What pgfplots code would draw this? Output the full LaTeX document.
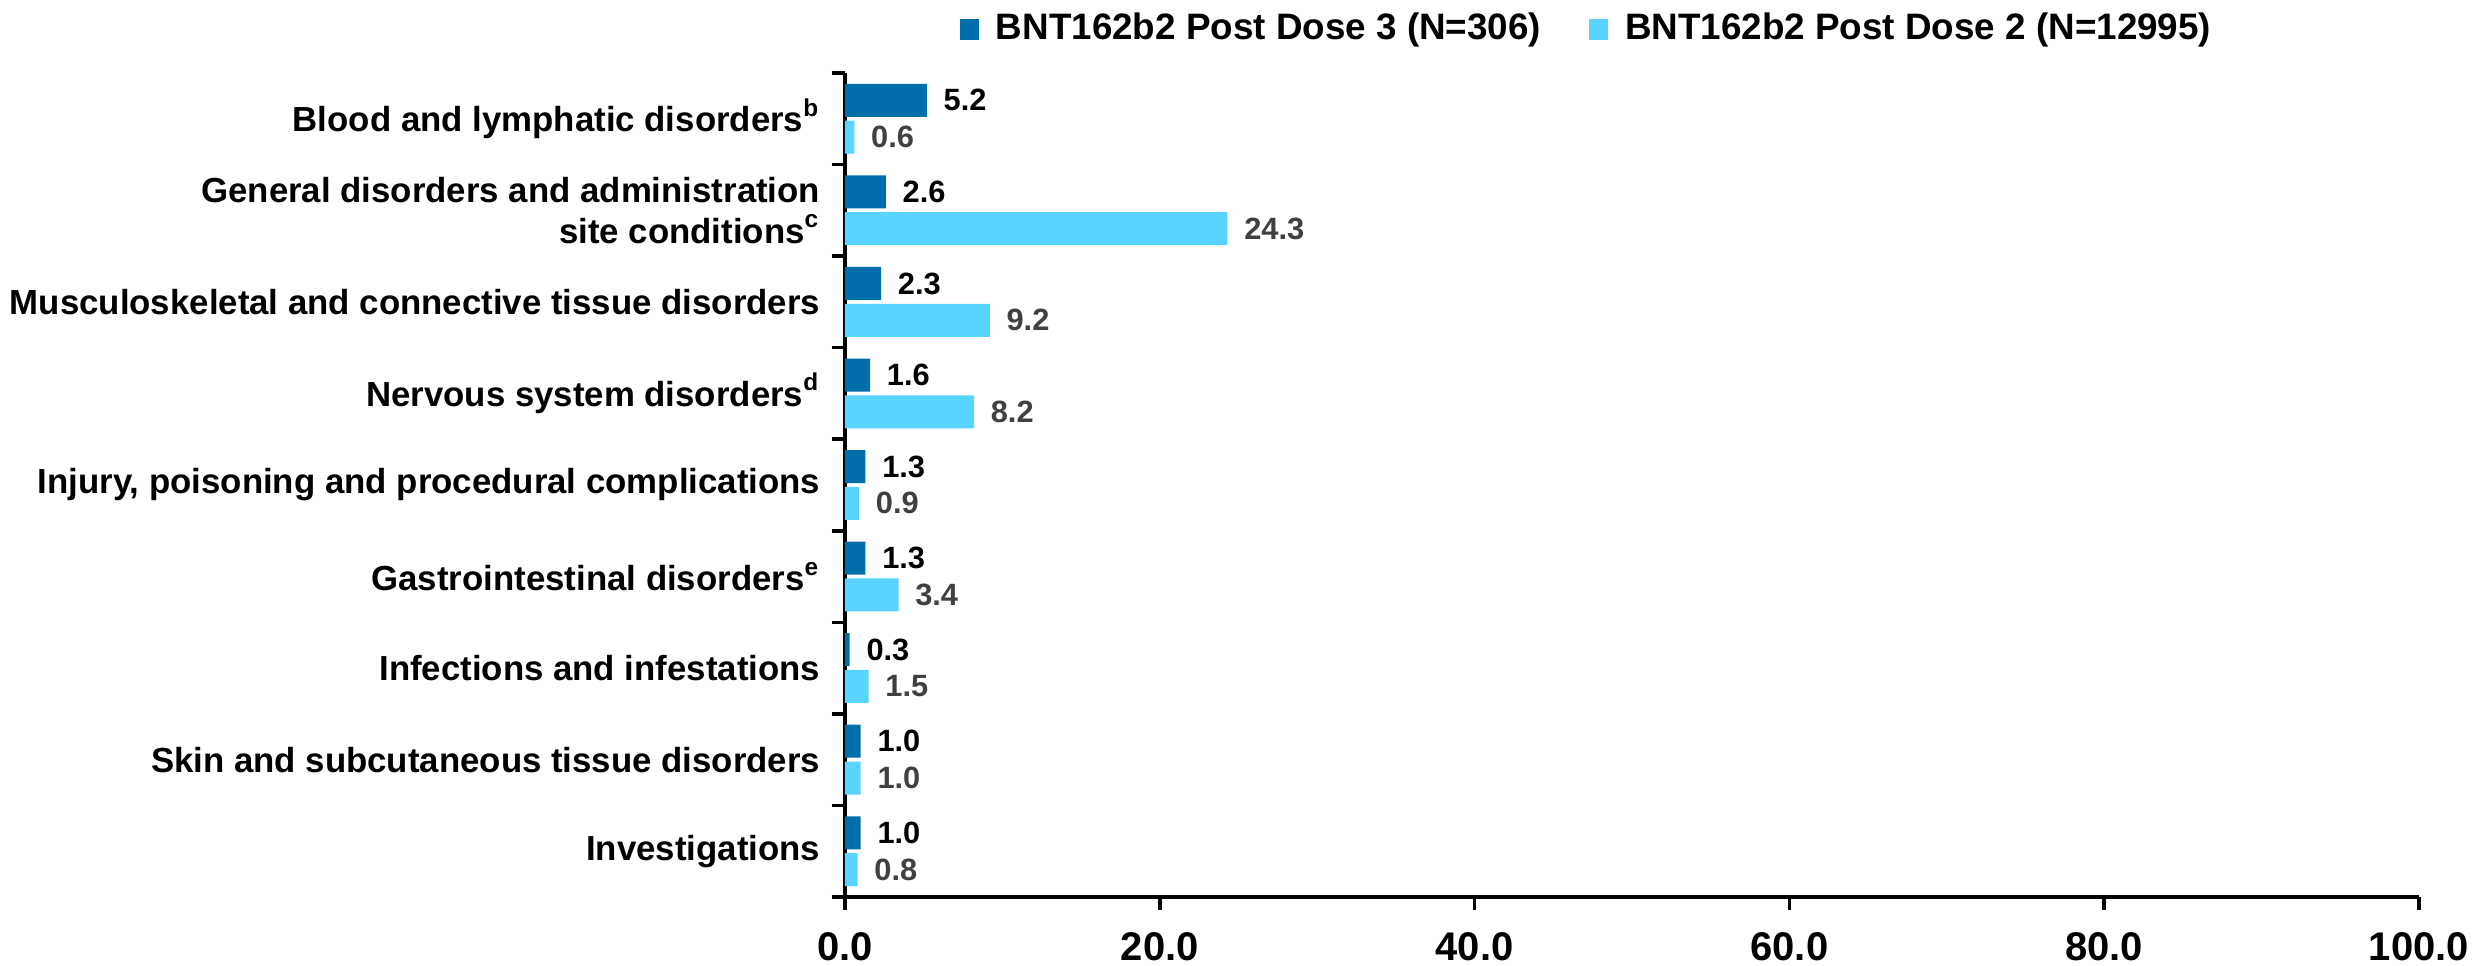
\documentclass[border=0pt]{standalone}
\usepackage{pgfplots}
\pgfplotsset{compat=1.18}
\usepackage{fontspec}
\setmainfont{Liberation Sans}
\definecolor{dark}{RGB}{0,110,170}
\definecolor{light}{RGB}{89,211,255}
\definecolor{valgray}{RGB}{64,64,64}
\begin{document}
\begin{tikzpicture}
\begin{axis}[
  name=ax,
  scale only axis,
  width=393.5pt, height=206pt,
  xmin=0, xmax=100,
  ymin=-0.5, ymax=8.5,
  axis lines=left,
  axis line style={line width=0.9pt, -},
  xtick={0,20,40,60,80,100},
  ytick={-0.5,0.5,1.5,2.5,3.5,4.5,5.5,6.5,7.5,8.5},
  yticklabels={,,,,,,,,,,},
  tick align=outside,
  major tick length=3.25pt,
  tick style={line width=0.9pt, black},
  extra y ticks={0,1,2,3,4,5,6,7,8},
  extra y tick style={major tick length=0pt},
  extra y tick labels={
    Investigations,
    Skin and subcutaneous tissue disorders,
    Infections and infestations,
    Gastrointestinal disorders\textsuperscript{e},
    {Injury, poisoning and procedural complications},
    Nervous system disorders\textsuperscript{d},
    Musculoskeletal and connective tissue disorders,
    {General disorders and administration\\site conditions\textsuperscript{c}},
    Blood and lymphatic disorders\textsuperscript{b}
  },
  yticklabel style={font=\fontsize{8.7}{10.2}\selectfont\bfseries, align=right, anchor=east, inner sep=0pt, xshift=-6pt},
  xticklabel style={font=\fontsize{10}{12}\selectfont\bfseries, inner sep=0pt, yshift=-5.5pt},
  /pgf/number format/assume math mode=true,
  xticklabel={\pgfmathprintnumber[fixed,fixed zerofill,precision=1]{\tick}},
  xbar,
  bar width=8.25pt,
  nodes near coords={\pgfmathprintnumber[fixed,fixed zerofill,precision=1]{\pgfplotspointmeta}},
  nodes near coords style={font=\fontsize{7.7}{9}\selectfont\bfseries, anchor=west, inner sep=0pt, xshift=4pt},
  legend columns=2,
  legend style={at={(0.473,1)}, anchor=center, yshift=10.9pt, draw=none, fill=none,
    font=\fontsize{9.2}{11}\selectfont\bfseries, inner sep=0pt,
    /tikz/every even column/.append style={column sep=10pt}},
  legend image code/.code={\fill[#1] (0pt,-2.6pt) rectangle (4.8pt,2.6pt);},
  clip=false,
]
\addplot[fill=dark, draw=none, bar shift=4.6pt, nodes near coords style={text=black}] coordinates {
  (1.0,0) (1.0,1) (0.3,2) (1.3,3) (1.3,4) (1.6,5) (2.3,6) (2.6,7) (5.2,8)
};
\addlegendentry{\hspace{2.25pt}BNT162b2 Post Dose 3 (N=306)}
\addplot[fill=light, draw=none, bar shift=-4.6pt, nodes near coords style={text=valgray}] coordinates {
  (0.8,0) (1.0,1) (1.5,2) (3.4,3) (0.9,4) (8.2,5) (9.2,6) (24.3,7) (0.6,8)
};
\addlegendentry{\hspace{2.25pt}BNT162b2 Post Dose 2 (N=12995)}
\end{axis}
\pgfresetboundingbox
\path[use as bounding box] ([xshift=-211.25pt,yshift=-17.25pt]ax.south west) rectangle ([xshift=18pt,yshift=18.25pt]ax.north east);
\end{tikzpicture}
\end{document}
